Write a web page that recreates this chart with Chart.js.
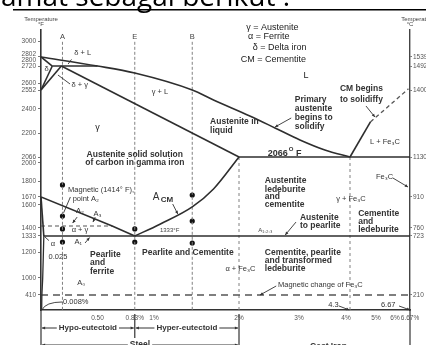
<!DOCTYPE html>
<html>
<head>
<meta charset="utf-8">
<script src="https://cdn.jsdelivr.net/npm/chart.js@4.4.1/dist/chart.umd.min.js"></script>
<style>
  html, body { margin: 0; padding: 0; background: #fff; }
  canvas { display: block; }
</style>
</head>
<body>
<canvas id="phaseChart" width="426" height="345"></canvas>
<script>
// phase boundaries, [carbon %, temperature F]
var liquidus = [[0,2802],[0.5,2720],[0.83,2671],[1.45,2552],[1.7,2472],[2.18,2342],[2.6,2242],[3.02,2161],[3.55,2105],[4.3,2066]];
var deltaSolidus = [[0,2802],[0.1,2720]];
var peritectic = [[0.1,2720],[0.5,2720]];
var deltaGammaLow = [[0,2552],[0.1,2720]];
var deltaGammaHigh = [[0,2552],[0.18,2720]];
var gammaSolidus = [[0.18,2720],[2,2066]];
var eutectic = [[2,2066],[6.67,2066]];
var cmLiquidus = [[4.3,2066],[4.85,2292]];
var cmLiquidusDashed = [[4.85,2292],[6.6,2560]];
var a3Line = [[0,1670],[0.63,1414],[0.83,1333]];
var alphaLine = [[0,1670],[0.025,1333]];
var ferriteSolvus = [[0.025,1333],[0.015,1000],[0.008,410],[0.006,0]];
var acmLine = [[0.83,1333],[1.07,1430],[1.45,1582],[1.7,1735],[2,2066]];
var eutectoid = [[0.025,1333],[6.67,1333]];
var a2Line = [[0,1414],[0.63,1414]];
var fe3cMagnetic = [[0,410],[6.67,410]];

// reference verticals (carbon %)
var refLines = [0.19, 0.83, 1.45];
var refNames = ['A', 'E', 'B'];
var dropLines = [2, 4.3];

// marked points on the verticals (temperature F)
var dotsA = [1768, 1502, 1390, 1283];
var dotsE = [1390, 1283];
var dotsB = [1686, 1458, 1275];

// axis ticks
var tempFTicks = [3000,2802,2720,2600,2552,2400,2200,2066,2000,1800,1670,1600,1400,1333,1200,1000,410];
var tempFLabels = ['3000',['2802','2800'],'2720','2600','2552','2400','2200','2066','2000','1800','1670','1600','1400','1333','1200','1000','410'];
var tempCTicks = [1539,1492,1400,1130,910,760,723,210];
var carbonTicks = [0.5,0.83,1,2,3,4,5,6,6.67];
var carbonLabels = ['0.50','0.83%','1%','2%','3%','4%','5%','6%','6.67%'];

// the drawing is not to scale: value -> fraction of axis length
var carbonStretch = [[0,0],[1,0.3062],[2,0.5366],[3,0.6992],[4,0.8266],[4.3,0.8374],[5,0.9079],[6,0.9593],[6.67,1]];
var tempStretch = [[0,0],[410,0.0536],[1000,0.1143],[1200,0.2071],[1333,0.2643],[1414,0.3],[1670,0.4036],[1800,0.4607],
  [2066,0.5464],[2200,0.6321],[2400,0.7179],[2552,0.7857],[2720,0.8714],[2802,0.9036],[3000,0.9607],[3120,1]];
var tempStretchC = tempStretch.map(function(k){ return [(k[0]-32)*5/9, k[1]]; });
var stretch = { x: carbonStretch, y: tempStretch, y2: tempStretchC };

function knotFrac(knots, v) {
  var i = 1;
  while (i < knots.length - 1 && v > knots[i][0]) i++;
  var a = knots[i-1], b = knots[i];
  return a[1] + (v - a[0]) * (b[1] - a[1]) / (b[0] - a[0]);
}
function knotValue(knots, f) {
  var i = 1;
  while (i < knots.length - 1 && f > knots[i][1]) i++;
  var a = knots[i-1], b = knots[i];
  return a[0] + (f - a[1]) * (b[0] - a[0]) / (b[1] - a[1]);
}

var Base = Chart.LinearScale;
class KnotScale extends Base {
  getPixelForValue(value) {
    return this.getPixelForDecimal(knotFrac(stretch[this.id], value));
  }
  getValueForPixel(pixel) {
    return knotValue(stretch[this.id], this.getDecimalForPixel(pixel));
  }
}
KnotScale.id = 'knots';
KnotScale.defaults = Base.defaults;
Chart.register(KnotScale);

var FONT = '"Liberation Sans", Arial, sans-serif';
var styles = {
  leg: ['9px ' + FONT, '#222'],
  b: ['bold 8.5px ' + FONT, '#333'],
  n: ['7.5px ' + FONT, '#333'],
  s: ['6px ' + FONT, '#444']
};

// text labels [text, carbon, temp F, style, align]
var notes = [
  ['γ = Austenite', 2.12, 3150, 'leg'],
  ['α = Ferrite', 2.15, 3045, 'leg'],
  ['δ = Delta iron', 2.23, 2915, 'leg'],
  ['CM = Cementite', 2.03, 2775, 'leg'],
  ['L', 3.15, 2650, 'leg', 'center'],
  ['CM begins', 3.87, 2559, 'b'],
  ['to solidiffy', 3.87, 2472, 'b'],
  ['Primary', 2.93, 2472, 'b'],
  ['austenite', 2.93, 2400, 'b'],
  ['begins to', 2.93, 2325, 'b'],
  ['solidify', 2.93, 2250, 'b'],
  ['Austenite in', 1.66, 2292, 'b'],
  ['liquid', 1.66, 2217, 'b'],
  ['γ + L', 1.07, 2536, 'n', 'center'],
  ['δ + L', 0.37, 2851, 'n', 'center'],
  ['δ', 0.03, 2699, 'n'],
  ['δ + γ', 0.27, 2587, 'n'],
  ['γ', 0.5, 2242, 'leg', 'center'],
  ['Austenite solid solution', 0.83, 2077, 'b', 'center'],
  ['of carbon in gamma iron', 0.83, 2000, 'b', 'center'],
  ['Magnetic (1414° F),', 0.24, 1727, 'n'],
  ['point A₂', 0.28, 1652, 'n'],
  ['A₂', 0.345, 1546, 'n', 'center'],
  ['A₃', 0.5, 1520, 'n', 'center'],
  ['α + γ', 0.345, 1382, 'n', 'center'],
  ['A₁', 0.33, 1283, 'n', 'center'],
  ['α', 0.106, 1267, 'n', 'center'],
  ['0.025', 0.15, 1162, 'n', 'center'],
  ['1333°F', 1.07, 1382, 's'],
  ['Pearlite', 0.434, 1177, 'b'],
  ['and', 0.434, 1115, 'b'],
  ['ferrite', 0.434, 1046, 'b'],
  ['Pearlite and Cementite', 0.894, 1192, 'b'],
  ['A₀', 0.32, 826, 'n'],
  ['0.008%', 0.195, 219, 'n'],
  ['Austentite', 2.43, 1802, 'b'],
  ['ledeburite', 2.43, 1727, 'b'],
  ['and', 2.43, 1670, 'b'],
  ['cementite', 2.43, 1599, 'b'],
  ['L + Fe₃C', 4.84, 2150, 'n'],
  ['Fe₃C', 5.0, 1844, 'n'],
  ['γ + Fe₃C', 3.79, 1652, 'n'],
  ['Austenite', 3.02, 1485, 'b'],
  ['to pearlite', 3.02, 1414, 'b'],
  ['A₁,₂,₃', 2.32, 1382, 's'],
  ['Cementite', 4.52, 1520, 'b'],
  ['and', 4.52, 1449, 'b'],
  ['ledeburite', 4.52, 1382, 'b'],
  ['Cementite, pearlite', 2.43, 1192, 'b'],
  ['and transformed', 2.43, 1131, 'b'],
  ['ledeburite', 2.43, 1069, 'b'],
  ['α + Fe₃C', 1.84, 1069, 'n'],
  ['Magnetic change of Fe₃C', 2.65, 757, 'n'],
  ['4.3', 3.62, 137, 'n'],
  ['6.67', 5.26, 137, 'n']
];

// leader lines [from c, from t, to c, to t, arrowhead]
var leaders = [
  [4.73,2424, 4.97,2333, true],
  [2.87,2325, 2.6,2250, true],
  [0.27,2780, 0.24,2738, false],
  [0.257,2594, 0.15,2657, false],
  [0.26,1670, 0.2,1530, false],
  [1.22,1608, 1.28,1520, true],
  [0.32,1493, 0.28,1440, true],
  [0.48,1493, 0.46,1449, true],
  [0.39,1275, 0.43,1320, true],
  [0.07,1295, 0.035,1325, false],
  [5.89,1833, 6.58,1751, true],
  [2.95,1449, 2.77,1341, true],
  [2.62,722, 2.35,410, true],
  [3.85,110, 4.25,0, true],
  [6.18,110, 6.67,0, true]
];

function curve(pts, extra) {
  return Object.assign({
    data: pts.map(function(p){ return {x: p[0], y: p[1]}; }),
    showLine: true,
    borderColor: '#2e2e2e',
    borderWidth: 1.6,
    pointRadius: 0,
    fill: false,
    tension: 0
  }, extra || {});
}

var datasets = [
  curve(liquidus, {cubicInterpolationMode: 'monotone'}),
  curve(deltaSolidus), curve(peritectic), curve(deltaGammaLow), curve(deltaGammaHigh),
  curve(gammaSolidus), curve(eutectic), curve(cmLiquidus),
  curve(cmLiquidusDashed, {borderDash: [4,3], borderWidth: 1.3, borderColor: '#555'}),
  curve(a3Line), curve(alphaLine), curve(ferriteSolvus, {tension: 0.3, borderWidth: 1.3}),
  curve(acmLine, {cubicInterpolationMode: 'monotone'}),
  curve(eutectoid),
  curve(a2Line, {borderDash: [4,3], borderWidth: 1.2, borderColor: '#555'}),
  curve(fe3cMagnetic, {borderDash: [7,5], borderWidth: 1.4, borderColor: '#555'})
];
refLines.forEach(function(c){
  datasets.push(curve([[c,2990],[c,0]], {borderDash: [3,2], borderWidth: 1, borderColor: '#808080'}));
});
dropLines.forEach(function(c){
  datasets.push(curve([[c,2066],[c,0]], {borderDash: [3,3], borderWidth: 1, borderColor: '#808080'}));
});
var dotPts = [];
dotsA.forEach(function(t){ dotPts.push({x: refLines[0], y: t}); });
dotsE.forEach(function(t){ dotPts.push({x: refLines[1], y: t}); });
dotsB.forEach(function(t){ dotPts.push({x: refLines[2], y: t}); });
datasets.push({ data: dotPts, showLine: false, pointRadius: 2.6, pointBackgroundColor: '#111', pointBorderWidth: 0 });

function drawArrow(ctx, x1, y1, x2, y2, head) {
  ctx.beginPath(); ctx.moveTo(x1, y1); ctx.lineTo(x2, y2); ctx.stroke();
  if (head) {
    var a = Math.atan2(y2 - y1, x2 - x1), h = 3.5;
    ctx.beginPath();
    ctx.moveTo(x2, y2);
    ctx.lineTo(x2 - h * Math.cos(a - 0.45), y2 - h * Math.sin(a - 0.45));
    ctx.lineTo(x2 - h * Math.cos(a + 0.45), y2 - h * Math.sin(a + 0.45));
    ctx.closePath(); ctx.fill();
  }
}

var phaseNotes = {
  id: 'phaseNotes',
  afterDraw: function(chart) {
    var ctx = chart.ctx, xs = chart.scales.x, ys = chart.scales.y, ys2 = chart.scales.y2, area = chart.chartArea;
    function px(c) { return xs.getPixelForValue(c); }
    function py(t) { return ys.getPixelForValue(t); }
    ctx.save();

    // page heading cut by the crop + rule
    ctx.fillStyle = '#000';
    ctx.font = '28px "Open Sans", sans-serif';
    ctx.textBaseline = 'alphabetic';
    ctx.textAlign = 'left';
    ctx.fillText('amat sebagai berikut :', 1, 6);
    ctx.fillRect(13, 9, 413, 1.5);

    // axis titles
    ctx.fillStyle = '#444';
    ctx.font = '6px ' + FONT;
    ctx.textAlign = 'center';
    ctx.textBaseline = 'middle';
    ctx.fillText('Temperature', area.left, 19);
    ctx.fillText('°F', area.left, 24);
    ctx.fillText('Temperature', ys2.left + 8, 19);
    ctx.fillText('°C', ys2.left, 24);

    // leaders
    ctx.strokeStyle = '#333';
    ctx.fillStyle = '#333';
    ctx.lineWidth = 0.9;
    leaders.forEach(function(l) {
      drawArrow(ctx, px(l[0]), py(l[1]), px(l[2]), py(l[3]), l[4]);
    });
    // curved leader for 0.008%
    ctx.beginPath();
    ctx.moveTo(px(0.19), py(219));
    ctx.quadraticCurveTo(px(0.04), py(219), px(0.008), py(0));
    ctx.stroke();

    // region labels
    ctx.textBaseline = 'middle';
    notes.forEach(function(n) {
      ctx.font = styles[n[3]][0];
      ctx.fillStyle = styles[n[3]][1];
      ctx.textAlign = n[4] || 'left';
      ctx.fillText(n[0], px(n[1]), py(n[2]));
    });
    refLines.forEach(function(c, i) {
      ctx.font = styles.n[0]; ctx.fillStyle = '#444'; ctx.textAlign = 'center';
      ctx.fillText(refNames[i], px(c), py(3044));
    });

    // A_CM
    ctx.textAlign = 'left';
    ctx.fillStyle = '#333';
    ctx.font = '10px ' + FONT;
    ctx.fillText('A', px(0.99), py(1670));
    ctx.font = 'bold 8px ' + FONT;
    ctx.fillText('CM', px(1.08), py(1644));

    // 2066 F with raised O
    var gx = px(2.48), gy = py(2088);
    ctx.font = 'bold 9px ' + FONT;
    ctx.fillText('2066', gx, gy);
    var w = ctx.measureText('2066').width;
    ctx.font = 'bold 6px ' + FONT;
    ctx.fillText('O', gx + w + 1, gy - 3.5);
    var w2 = ctx.measureText('O').width;
    ctx.font = 'bold 9px ' + FONT;
    ctx.fillText(' F', gx + w + w2 + 1, gy);

    // bands below the axis
    var b = area.bottom, H = chart.height;
    var x0 = px(0), xE = px(0.83), x2 = px(2), xR = px(6.67);
    ctx.strokeStyle = '#333';
    ctx.lineWidth = 1.2;
    [[x0, b, H], [xE, b + 4, b + 28], [x2, b + 4, H], [xR, b, H]].forEach(function(v) {
      ctx.beginPath(); ctx.moveTo(v[0], v[1]); ctx.lineTo(v[0], v[2]); ctx.stroke();
    });
    ctx.lineWidth = 1;
    ctx.fillStyle = '#333';
    function band(label, xa, xb, y, font) {
      ctx.font = font;
      ctx.textAlign = 'center';
      ctx.textBaseline = 'middle';
      var mid = (xa + xb) / 2, tw = ctx.measureText(label).width;
      ctx.fillText(label, mid, y);
      drawArrow(ctx, mid - tw / 2 - 2, y, xa + 1, y, true);
      drawArrow(ctx, mid + tw / 2 + 2, y, xb - 1, y, true);
    }
    band('Hypo-eutectoid', x0, xE, b + 18, 'bold 8px ' + FONT);
    band('Hyper-eutectoid', xE, x2, b + 18, 'bold 8px ' + FONT);
    band('Steel', x0, x2, b + 35, 'bold 8.5px ' + FONT);
    ctx.font = 'bold 8.5px ' + FONT;
    ctx.textAlign = 'center';
    ctx.fillText('Cast Iron', (x2 + xR) / 2 + 4, b + 37);

    ctx.restore();
  }
};

Chart.register(phaseNotes);

var tickFont = { size: 6.5, family: '"Liberation Sans", Arial, sans-serif' };

new Chart(document.getElementById('phaseChart'), {
  type: 'scatter',
  data: { datasets: datasets },
  options: {
    responsive: false,
    animation: false,
    devicePixelRatio: 1,
    layout: { padding: { top: 30, left: 0, right: 0, bottom: 0 } },
    plugins: { legend: { display: false }, tooltip: { enabled: false } },
    scales: {
      x: {
        type: 'knots', min: 0, max: 6.67,
        afterFit: function(s) { s.height = 35; },
        afterBuildTicks: function(s) { s.ticks = carbonTicks.map(function(v){ return {value: v}; }); },
        ticks: { autoSkip: false, maxRotation: 0, padding: 4, font: tickFont, color: '#555',
          callback: function(v, i) { return carbonLabels[i]; } },
        grid: { display: true, drawOnChartArea: false, drawTicks: false },
        border: { display: true, color: '#333', width: 1.6 }
      },
      y: {
        type: 'knots', position: 'left', min: 0, max: 3120,
        afterFit: function(s) { s.width = 41; },
        afterBuildTicks: function(s) { s.ticks = tempFTicks.map(function(v){ return {value: v}; }); },
        ticks: { autoSkip: false, padding: 2, font: Object.assign({lineHeight: 1}, tickFont), color: '#555',
          callback: function(v, i) { return tempFLabels[i]; } },
        grid: { display: true, drawOnChartArea: false, tickLength: 3, color: '#777' },
        border: { display: true, color: '#333', width: 1.6 }
      },
      y2: {
        type: 'knots', position: 'right', min: (0 - 32) * 5 / 9, max: (3120 - 32) * 5 / 9,
        afterFit: function(s) { s.width = 16; },
        afterBuildTicks: function(s) { s.ticks = tempCTicks.map(function(v){ return {value: v}; }); },
        ticks: { autoSkip: false, padding: 1, font: tickFont, color: '#555',
          callback: function(v) { return String(v); } },
        grid: { display: true, drawOnChartArea: false, tickLength: 2, color: '#777' },
        border: { display: true, color: '#444', width: 1.4 }
      }
    }
  }
});
</script>
</body>
</html>
